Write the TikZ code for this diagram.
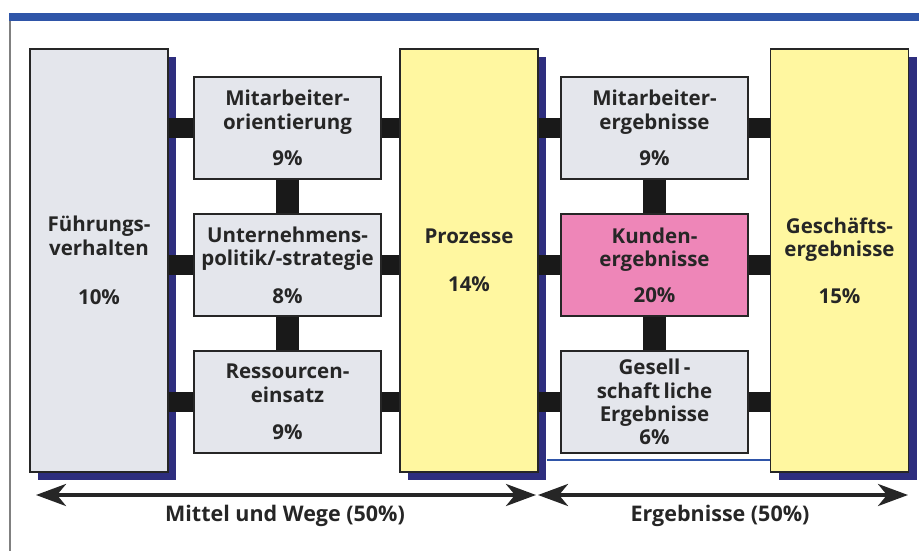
\documentclass[tikz,border=0pt]{standalone}
\usepackage{fontspec}
\setmainfont{Open Sans}
\usetikzlibrary{positioning,shadows,arrows.meta}
\definecolor{boxgray}{HTML}{E4E6EC}
\definecolor{boxyellow}{HTML}{FFF7A0}
\definecolor{boxpink}{HTML}{EE86B8}
\definecolor{navy}{HTML}{2E2E7E}
\definecolor{bandblue}{HTML}{2F55A8}
\tikzset{crit/.style = {draw=black!85,line width=1.2pt,align=center,inner sep=0pt,
                        font=\bfseries\fontsize{20.5}{23.5}\selectfont,text=black!85},
         bigbox/.style = {crit,minimum width=138pt,minimum height=423pt,
                          drop shadow={shadow xshift=8pt,shadow yshift=-8pt,fill=navy,opacity=1}},
         smallbox/.style = {crit,fill=boxgray,minimum width=187pt,minimum height=102pt},
         hbar/.style = {line width=20pt,black!90},
         vbar/.style = {line width=23pt,black!90},
         pfeil/.style = {line width=4pt,black!85,
                         {Stealth[length=30pt,width=22pt,inset=9pt]}-{Stealth[length=30pt,width=22pt,inset=9pt]}},
         lbl/.style = {font=\bfseries\fontsize{21.5}{25}\selectfont,text=black!85}}

\begin{document}
\begin{tikzpicture}[x=1pt,y=-1pt]
                    \useasboundingbox (0,0) rectangle (919,551);
                    \fill[bandblue] (9,13) rectangle (919,21);
                    \draw[gray,line width=1.5pt] (10,21) -- (10,551);
                    % grosse Kriterien
                    \node[bigbox,fill=boxgray] (fuehr) at (99,260.5) {F\"uhrungs-\\verhalten\\[26pt]10\%};
                    \node[bigbox,fill=boxyellow] (proz) at (469,260.5) {Prozesse\\[24pt]14\%};
                    \node[bigbox,fill=boxyellow] (gesch) at (839.5,260.5) {Gesch\"afts-\\ergebnisse\\[23pt]15\%};
                    % kleine Kriterien
                    \node[smallbox] (mita) at (287.5,128) {Mitarbeiter-\\orientierung\\[13pt]9\%};
                    \node[smallbox] (unter) at (287.5,265) {Unternehmens-\\politik/-strategie\\[14pt]8\%};
                    \node[smallbox] (ress) at (287.5,402) {Ressourcen-\\einsatz\\[14pt]9\%};
                    \node[smallbox] (mite) at (654.5,128) {Mitarbeiter-\\ergebnisse\\[13pt]9\%};
                    \node[smallbox,fill=boxpink] (kund) at (654.5,265) {Kunden-\\ergebnisse\\[12pt]20\%};
                    \node[smallbox] (gesell) at (654.5,402) {Gesell\,-\\schaft\,liche\\Ergebnisse\\[-1pt]6\%};
                    \foreach \a/\b in {mita/unter,unter/ress,mite/kund,kund/gesell}
                        \draw[vbar] (\a) -- (\b);
                    \foreach \s in {mita,unter,ress}{
                        \draw[hbar] (fuehr.east |- \s) -- (\s);
                        \draw[hbar] (\s) -- (proz.west |- \s);}
                    \foreach \s in {mite,kund,gesell}{
                        \draw[hbar] (proz.east |- \s) -- (\s);
                        \draw[hbar] (\s) -- (gesch.west |- \s);}
                    \draw[bandblue,line width=2pt] (547,460) -- (gesch.west |- 0,460);
                    % Pfeile
                    \coordinate (mwl) at (36,495);
                    \coordinate (mwr) at (536,495);
                    \coordinate (erl) at (538,495);
                    \coordinate (err) at (908,495);
                    \draw[pfeil] (mwl) -- (mwr);
                    \draw[pfeil] (erl) -- (err);
                    \node[lbl] (mw) at (285,516) {Mittel und Wege (50\%)};
                    \node[lbl] (erg) at (720,516) {Ergebnisse (50\%)};
                \end{tikzpicture}
\end{document}
